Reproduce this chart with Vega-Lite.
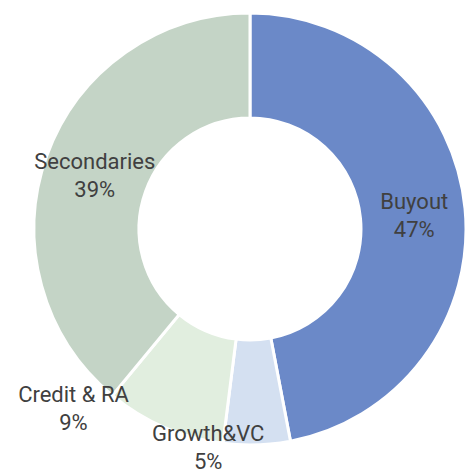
{
  "$schema": "https://vega.github.io/schema/vega-lite/v6.json",
  "width": 500,
  "height": 458,
  "autosize": "none",
  "padding": {"left": 0, "top": 0, "right": 0, "bottom": 12},
  "background": "white",
  "config": {"view": {"stroke": null}, "font": "Roboto"},
  "data": {"values": [
    {"idx": 1, "category": "Buyout", "value": 47},
    {"idx": 2, "category": "Growth&VC", "value": 5},
    {"idx": 3, "category": "Credit & RA", "value": 9},
    {"idx": 4, "category": "Secondaries", "value": 39}
  ]},
  "transform": [
    {"stack": "value", "groupby": [], "sort": [{"field": "idx", "order": "ascending"}], "as": ["v0", "v1"]},
    {"calculate": "(datum.v0 + datum.v1) / 2", "as": "mid"},
    {"calculate": "[datum.category, datum.value + '%']", "as": "label"}
  ],
  "layer": [
    {
      "mark": {"type": "arc", "outerRadius": 216, "innerRadius": 111, "stroke": "white", "strokeWidth": 3},
      "encoding": {
        "theta": {"field": "v0", "type": "quantitative", "scale": {"domain": [0, 100]}},
        "theta2": {"field": "v1"},
        "color": {"field": "category", "type": "nominal", "legend": null,
          "scale": {"domain": ["Buyout", "Growth&VC", "Credit & RA", "Secondaries"],
                    "range": ["#6B89C8", "#D4E0F1", "#E1EEDF", "#C4D4C6"]}}
      }
    },
    {
      "transform": [{"filter": "datum.category == 'Buyout' || datum.category == 'Secondaries'"}],
      "mark": {"type": "text", "radius": 165, "fontSize": 22, "color": "#404040", "lineHeight": 28, "baseline": "middle", "dy": -11},
      "encoding": {
        "theta": {"field": "mid", "type": "quantitative", "stack": null, "scale": {"domain": [0, 100]}},
        "text": {"field": "label"}
      }
    },
    {
      "transform": [{"filter": "datum.category == 'Credit & RA'"}],
      "mark": {"type": "text", "radius": 165, "fontSize": 22, "color": "#404040", "lineHeight": 28, "baseline": "middle", "dx": -111, "dy": 15},
      "encoding": {
        "theta": {"field": "mid", "type": "quantitative", "stack": null, "scale": {"domain": [0, 100]}},
        "text": {"field": "label"}
      }
    },
    {
      "transform": [{"filter": "datum.category == 'Growth&VC'"}],
      "mark": {"type": "text", "radius": 165, "fontSize": 22, "color": "#404040", "lineHeight": 28, "baseline": "middle", "dx": -47, "dy": 40},
      "encoding": {
        "theta": {"field": "mid", "type": "quantitative", "stack": null, "scale": {"domain": [0, 100]}},
        "text": {"field": "label"}
      }
    }
  ]
}
